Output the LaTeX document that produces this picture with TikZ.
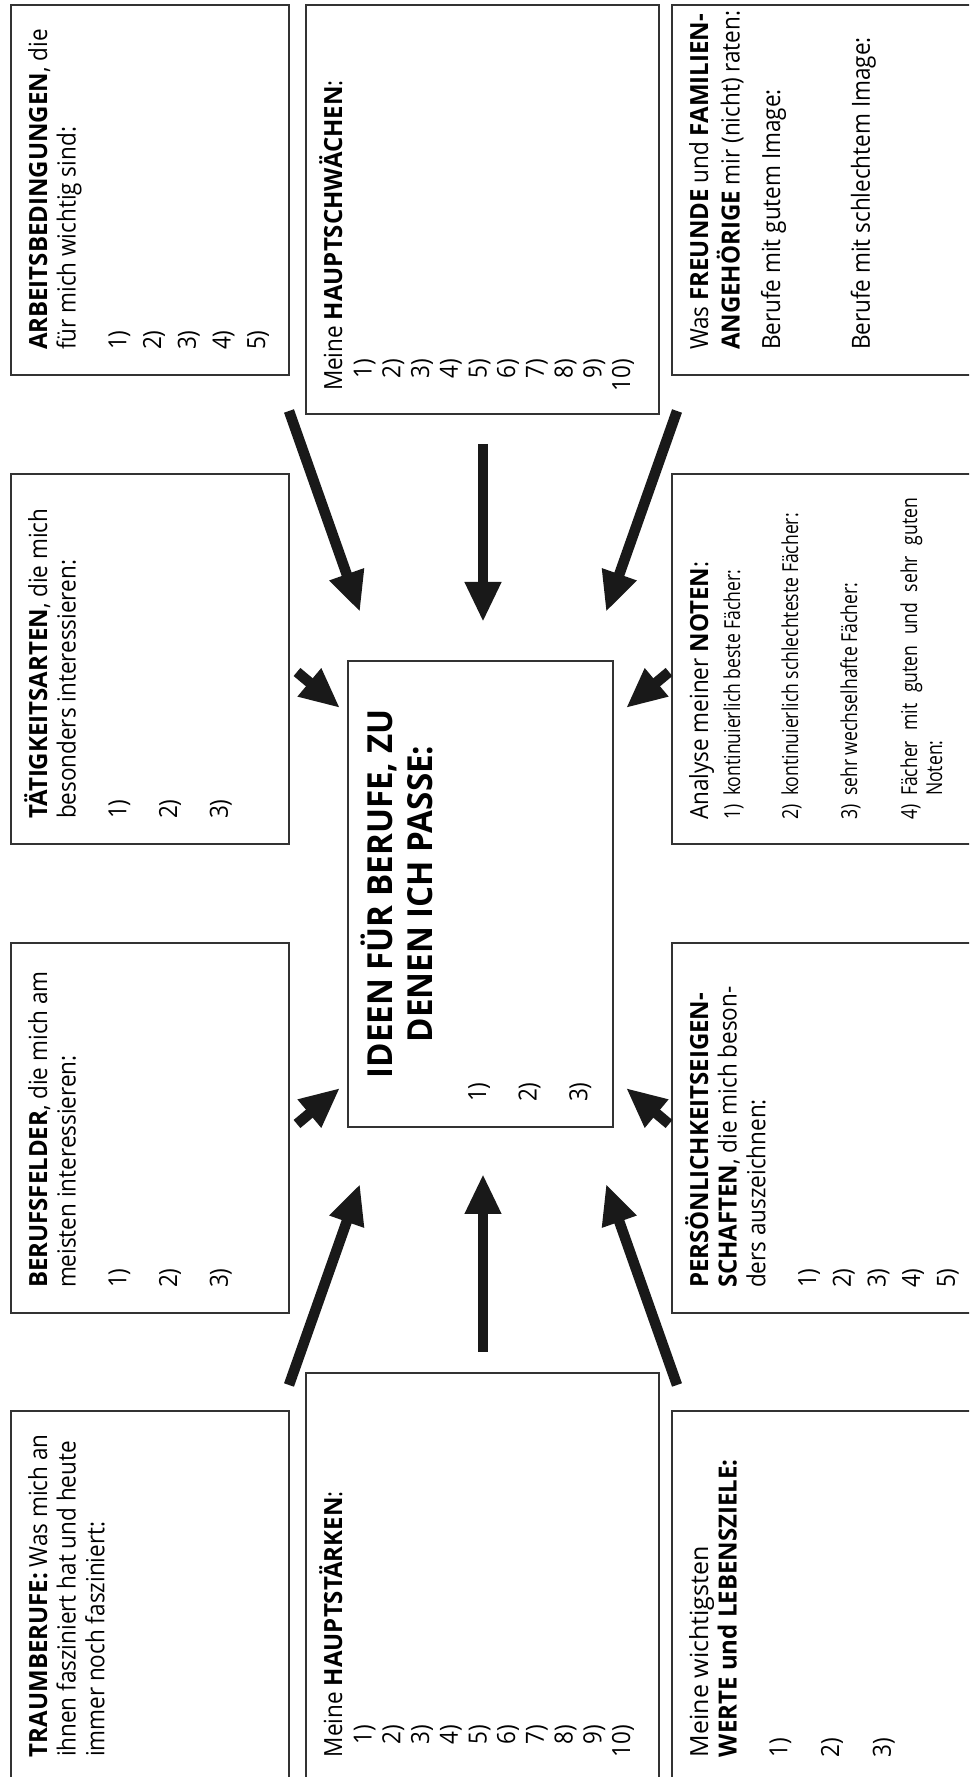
\documentclass[tikz,border=0pt]{standalone}
\usepackage{fontspec}
\setmainfont{Open Sans}[UprightFeatures={FakeStretch=0.9}, BoldFeatures={FakeStretch=0.96}]
\newfontfamily\condfont[FakeStretch=0.8]{Open Sans}
\newfontfamily\widefont{Open Sans}
\usetikzlibrary{arrows.meta}
\newcommand\fsmain{\fontsize{25}{28.7}\selectfont}
\newcommand\fstitle{\fontsize{34.5}{40}\selectfont\bfseries}
\newcommand\fscond{\condfont\fontsize{22}{25}\selectfont}
\newcommand\nr[1]{\makebox[32pt][r]{#1}}
\newcommand\nl[1]{\makebox[24pt][l]{#1}}
\newcommand\tl[1]{\begin{tabular}[t]{@{}l@{}}#1\end{tabular}}
\newcommand\tc[1]{\begin{tabular}[t]{@{}c@{}}#1\end{tabular}}
\tikzset{
  box/.style={draw=black!80, line width=1.3pt, inner sep=0pt, outer sep=0pt, fill=white},
  txt/.style={anchor=base west, inner sep=0pt, outer sep=0pt, font=\fsmain},
  arr/.style={line width=10.5pt, draw=black!90, -{Triangle[length=40pt,width=34pt]}},
}
\begin{document}
\begin{tikzpicture}[x=1pt,y=1pt]
\useasboundingbox (0,0) rectangle (969,1777);
\fill[white] (0,0) rectangle (969,1777);
\clip (0,0) rectangle (969,1777);
\begin{scope}[shift={(969,0)}, rotate=90, transform shape]
  % boxes: landscape-top row (image left column)
  \node[box, minimum width=370pt, minimum height=278pt] (traum) at (181,819) {};
  \node[box, minimum width=370pt, minimum height=278pt] (felder) at (649,819) {};
  \node[box, minimum width=370pt, minimum height=278pt] (taet) at (1118,819) {};
  \node[box, minimum width=370pt, minimum height=278pt] (arbeit) at (1587,819) {};
  % landscape-bottom row (image right column)
  \node[box, minimum width=370pt, minimum height=317pt] (werte) at (181,138.5) {};
  \node[box, minimum width=370pt, minimum height=317pt] (pers) at (649,138.5) {};
  \node[box, minimum width=370pt, minimum height=317pt] (noten) at (1118,138.5) {};
  \node[box, minimum width=370pt, minimum height=317pt] (freunde) at (1587,138.5) {};
  % middle row
  \node[box, minimum width=409pt, minimum height=353pt] (staerken) at (199.5,486.5) {};
  \node[box, minimum width=409pt, minimum height=353pt] (schwaechen) at (1567.5,486.5) {};
  \node[box, minimum width=466pt, minimum height=265pt] (ideen) at (883,488.5) {};

  % texts
  \node[txt] (ttraum) at (20,922) {\tl{\textbf{TRAUMBERUFE:} Was mich an\\ihnen fasziniert hat und heute\\immer noch fasziniert:}};
  \node[txt] (tfelder) at (489,922) {\tl{\textbf{BERUFSFELDER}, die mich am\\meisten interessieren:\\[22pt]1)\\[22pt]2)\\[22pt]3)}};
  \node[txt] (ttaet) at (958,922) {\tl{\textbf{TÄTIGKEITSARTEN}, die mich\\besonders interessieren:\\[22pt]1)\\[22pt]2)\\[22pt]3)}};
  \node[txt] (tarbeit) at (1427,922) {\tl{\textbf{ARBEITSBEDINGUNGEN}, die\\für mich wichtig sind:\\[22pt]1)\\[6pt]2)\\[6pt]3)\\[6pt]4)\\[6pt]5)}};

  \node[txt] (tstaerken) at (20,627) {\tl{Meine \textbf{HAUPTSTÄRKEN}:\\[1pt]\nr{1)}\\\nr{2)}\\\nr{3)}\\\nr{4)}\\\nr{5)}\\\nr{6)}\\\nr{7)}\\\nr{8)}\\\nr{9)}\\\nr{10)}}};
  \node[txt] (tschwaechen) at (1386,627) {\tl{Meine \textbf{HAUPTSCHWÄCHEN}:\\[1pt]\nr{1)}\\\nr{2)}\\\nr{3)}\\\nr{4)}\\\nr{5)}\\\nr{6)}\\\nr{7)}\\\nr{8)}\\\nr{9)}\\\nr{10)}}};

  \node[anchor=base, inner sep=0pt, font=\fstitle] (tideen) at (883,577) {\tc{IDEEN FÜR BERUFE, ZU\\DENEN ICH PASSE:}};
  \node[txt] (tideenlist) at (675,483) {\tl{1)\\[22pt]2)\\[22pt]3)}};

  \node[txt] (twerte) at (20,261) {\tl{{\widefont Meine wichtigsten}\\\textbf{WERTE und LEBENSZIELE:}\\[22pt]1)\\[23pt]2)\\[23pt]3)}};
  \node[txt] (tpers) at (489,261) {\tl{\textbf{PERSÖNLICHKEITSEIGEN-}\\\textbf{SCHAFTEN}, die mich beson-\\ders auszeichnen:\\[22pt]1)\\[6pt]2)\\[6pt]3)\\[6pt]4)\\[6pt]5)}};
  \node[txt] (tnoten) at (957,261) {Analyse meiner \textbf{NOTEN}:};
  \node[txt, font=\fscond] (tnotenlist) at (957,229) {\tl{\nl{1)}kontinuierlich beste Fächer:\\[33pt]\nl{2)}kontinuierlich schlechteste Fächer:\\[34pt]\nl{3)}sehr wechselhafte Fächer:\\[35pt]\nl{4)}\makebox[298pt][s]{Fächer mit guten und sehr guten}\\\makebox[24pt]{}Noten:}};
  \node[txt] (tfreunde) at (1427,261) {\tl{Was \textbf{FREUNDE} und \textbf{FAMILIEN-}\\\textbf{ANGEHÖRIGE} mir (nicht) raten:\\[12pt]Berufe mit gutem Image:\\[61pt]Berufe mit schlechtem Image:}};

  % arrow end points
  \coordinate (c) at (879,486);
  \path (c) ++(-487,194) coordinate (a1s) (c) ++(-286,123) coordinate (a1e);
  \path (c) ++(-454,0) coordinate (a2s) (c) ++(-276,0) coordinate (a2e);
  \path (c) ++(-487,-194) coordinate (a3s) (c) ++(-286,-123) coordinate (a3e);
  \path (c) ++(-226,186) coordinate (a4s) (c) ++(-190,143) coordinate (a4e);
  \path (c) ++(-226,-186) coordinate (a5s) (c) ++(-190,-143) coordinate (a5e);
  \path (c) ++(226,186) coordinate (a6s) (c) ++(190,143) coordinate (a6e);
  \path (c) ++(226,-186) coordinate (a7s) (c) ++(190,-143) coordinate (a7e);
  \path (c) ++(487,194) coordinate (a8s) (c) ++(286,123) coordinate (a8e);
  \path (c) ++(454,0) coordinate (a9s) (c) ++(276,0) coordinate (a9e);
  \path (c) ++(487,-194) coordinate (a10s) (c) ++(286,-123) coordinate (a10e);
  \foreach \i in {1,...,10} {\draw[arr] (a\i s) -- (a\i e);}
\end{scope}
\end{tikzpicture}
\end{document}
